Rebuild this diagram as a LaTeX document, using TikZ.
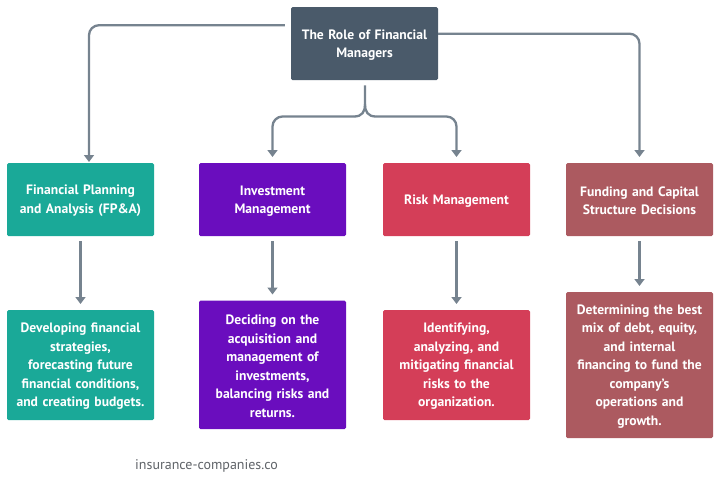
\documentclass[tikz,border=0pt]{standalone}
\usepackage{fontspec}
\setmainfont{PT Sans}
\usetikzlibrary{arrows.meta,calc}
\definecolor{cRoot}{HTML}{4A5A6A}
\definecolor{cTeal}{HTML}{1AA998}
\definecolor{cPurple}{HTML}{6A0DBE}
\definecolor{cRed}{HTML}{D43E58}
\definecolor{cBrown}{HTML}{AC5A60}
\definecolor{cLine}{HTML}{76838F}
\definecolor{cMark}{HTML}{5F6368}
\tikzset{
  x=1pt,y=-1pt,
  card/.style={rectangle,rounded corners=1.5pt,minimum width=147pt,inner sep=2pt,text width=141pt,align=center,
    font=\fontsize{13.6}{18.5}\selectfont\bfseries,anchor=north,execute at begin node={\rule{0pt}{12pt}}},
  wire/.style={draw=cLine,line width=2.3pt,rounded corners=10pt,-{Triangle[length=7pt,width=10pt]}},
  stem/.style={draw=cLine,line width=2.3pt},
}
\begin{document}
\begin{tikzpicture}
\useasboundingbox (0,0) rectangle (720,482);
\node[card,fill=cRoot,text=white,minimum height=73pt] (root) at (364.5,7) {The Role of Financial\\Managers};
\node[card,fill=cTeal,text=white,minimum height=73pt] (a1) at (80.5,163) {Financial Planning\\and Analysis (FP\&A)};
\node[card,fill=cPurple,text=white,minimum height=73pt] (b1) at (272.5,163) {Investment\\Management};
\node[card,fill=cRed,text=white,minimum height=73pt] (c1) at (456.5,163) {Risk Management};
\node[card,fill=cBrown,text=white,minimum height=73pt] (d1) at (639.5,163) {Funding and Capital\\Structure Decisions};
\node[card,fill=cTeal,text=white,minimum height=110pt] (a2) at (80.5,310) {Developing financial\\strategies,\\forecasting future\\financial conditions,\\and creating budgets.};
\node[card,fill=cPurple,text=white,minimum height=128.5pt] (b2) at (272.5,300.5) {Deciding on the\\acquisition and\\management of\\investments,\\balancing risks and\\returns.};
\node[card,fill=cRed,text=white,minimum height=110pt] (c2) at (456.5,310) {Identifying,\\analyzing, and\\mitigating financial\\risks to the\\organization.};
\node[card,fill=cBrown,text=white,minimum height=146pt] (d2) at (639.5,292) {Determining the best\\mix of debt, equity,\\and internal\\financing to fund the\\company's\\operations and\\growth.};
\node[anchor=west,inner sep=0pt,text=cMark,font=\fontsize{14}{16}\selectfont] (mark) at (135,466) {insurance-companies.co};
\coordinate (rl) at ($(root.west)+(-6,-18.5)$);
\coordinate (rr) at ($(root.east)+(0,-10)$);
\coordinate (rb) at ($(root.south)+(0.5,5)$);
\coordinate (fork) at (365,116.5);
\coordinate (ta) at ($(a1.north)+(8.5,-1)$);
\coordinate (tb) at ($(b1.north)+(0,-6)$);
\coordinate (tc) at ($(c1.north)+(0,-6)$);
\coordinate (td) at ($(d1.north)+(0,-6)$);
\draw[wire] (rl) -- (rl -| ta) -- (ta);
\draw[wire] (rr) -- (rr -| td) -- (td);
\draw[stem] (rb) -- (365,104) .. controls (365,112) and (362,116.5) .. (354,116.5);
\draw[wire] (354,116.5) -- (fork -| tb) -- (tb);
\draw[stem] (365,104) .. controls (365,112) and (368,116.5) .. (376,116.5);
\draw[wire] (376,116.5) -- (fork -| tc) -- (tc);
\foreach \u/\v in {a1/a2,b1/b2,c1/c2,d1/d2}{
  \draw[wire] ($(\u.south)+(0,5)$) -- ($(\v.north)+(0,-6)$);
}
\end{tikzpicture}
\end{document}
